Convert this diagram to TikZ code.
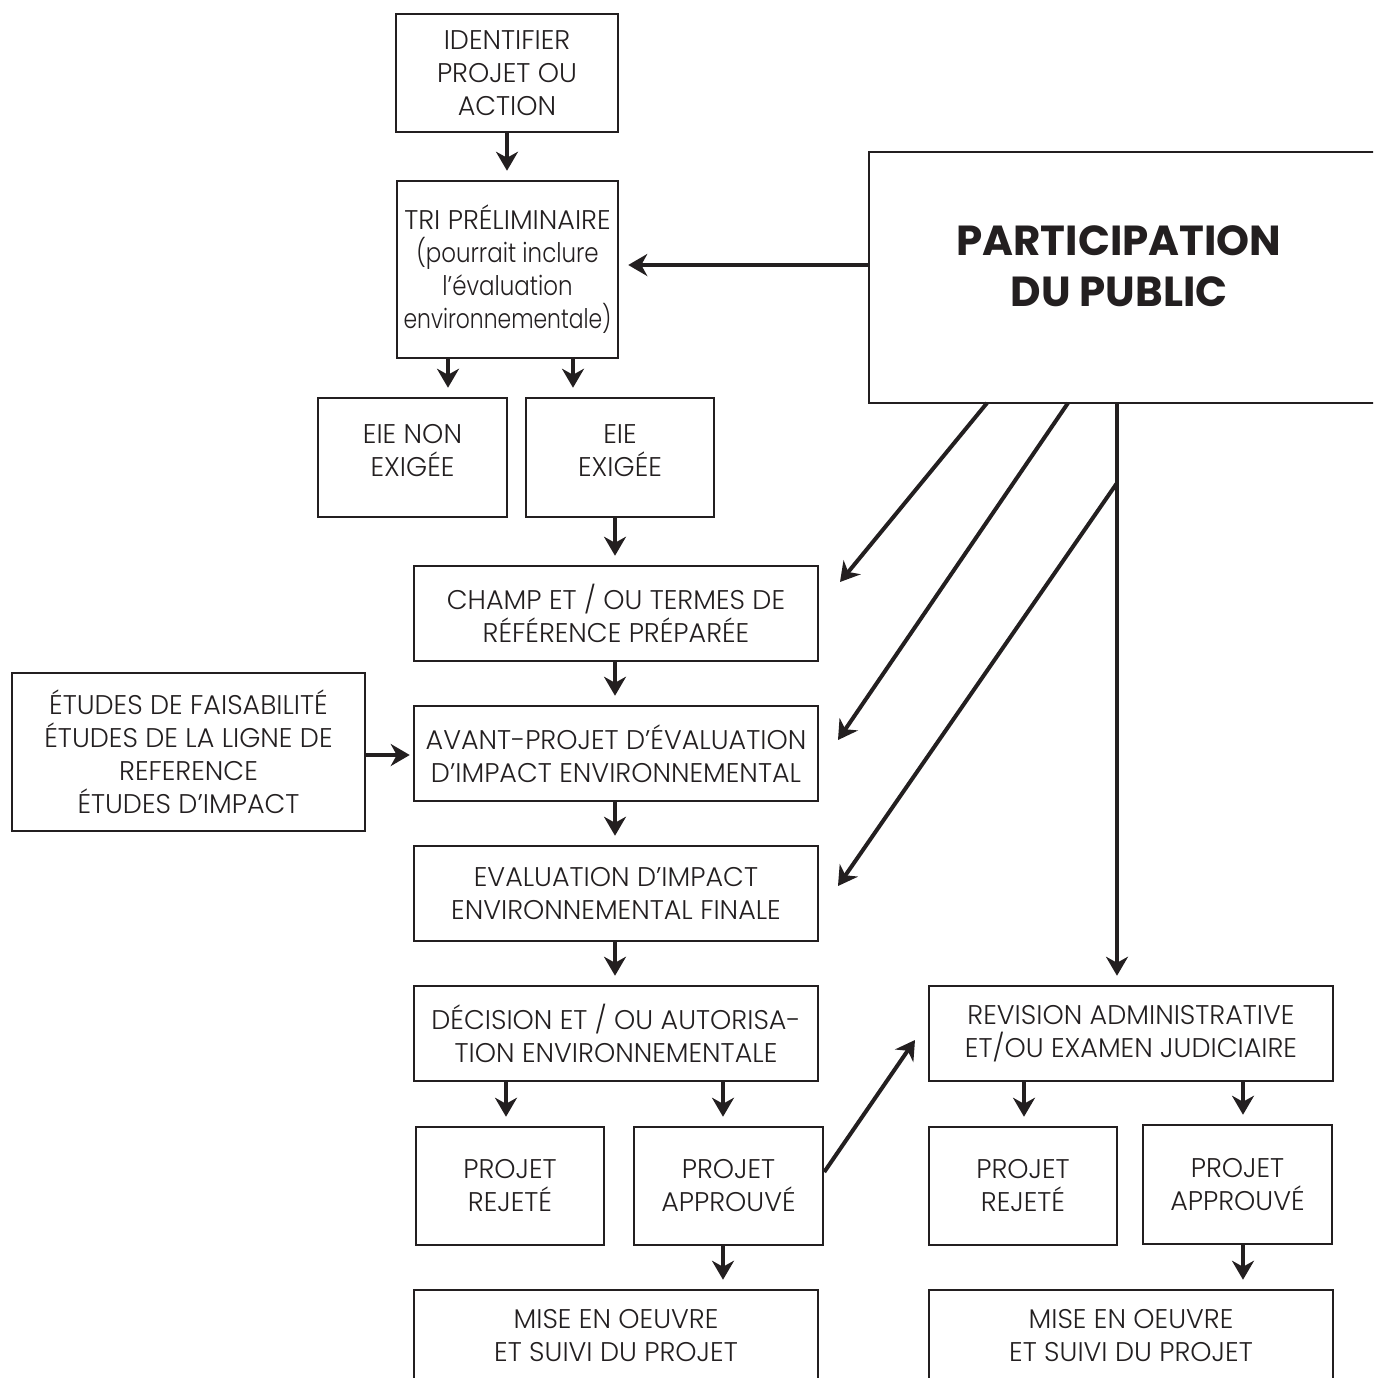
\documentclass[tikz,border=0pt]{standalone}
\usepackage{fontspec}
\setmainfont{Poppins}[UprightFont=*-Light, BoldFont=*-Bold]
\usetikzlibrary{arrows.meta,calc}
\definecolor{ink}{HTML}{231F20}
\newcommand{\narrow}[2][0.85]{\scalebox{#1}[1]{#2}}
\begin{document}
\begin{tikzpicture}[x=0.5pt,y=-0.5pt,
 box/.style={draw=ink, line width=1.25pt, align=center, inner sep=0pt, text=ink,
   font=\fontsize{13.5}{16.5}\selectfont},
 bigtext/.style={align=center, text=ink, font=\fontsize{21}{25.5}\selectfont\bfseries},
 arr/.style={line width=2pt, draw=ink, -{Stealth[length=9.5pt,width=11pt,inset=3pt]}, shorten >=4.5pt}]
\useasboundingbox (0,0) rectangle (1373,1378);
\clip (0,0) rectangle (1373,1378);
% boxes
\node[box, minimum width=111pt, minimum height=59pt] (ident) at (507,73) {IDENTIFIER\\PROJET OU\\ACTION};
\node[box, minimum width=110.5pt, minimum height=88.5pt] (tri) at (507.5,269.5) {TRI PRÉLIMINAIRE\\\narrow{(pourrait inclure}\\\narrow{l’évaluation}\\\narrow[0.81]{environnementale)}};
\node[box, minimum width=94.5pt, minimum height=59.5pt, text depth=7pt] (eien) at (412.5,457.5) {EIE NON\\EXIGÉE};
\node[box, minimum width=94pt, minimum height=59.5pt, text depth=7pt] (eie) at (620,457.5) {EIE\\EXIGÉE};
\node[box, minimum width=202pt, minimum height=47.5pt] (champ) at (616,613.5) {CHAMP ET / OU TERMES DE\\RÉFÉRENCE PRÉPARÉE};
\node[box, minimum width=202pt, minimum height=47.5pt] (avant) at (616,753.5) {AVANT-PROJET D’ÉVALUATION\\D’IMPACT ENVIRONNEMENTAL};
\node[box, minimum width=202pt, minimum height=47.5pt] (eval) at (616,893.5) {EVALUATION D’IMPACT\\ENVIRONNEMENTAL FINALE};
\node[box, minimum width=202pt, minimum height=47.5pt] (dec) at (616,1033.5) {DÉCISION ET / OU AUTORISA-\\TION ENVIRONNEMENTALE};
\node[box, minimum width=94pt, minimum height=59pt] (rej1) at (510,1186) {PROJET\\REJETÉ};
\node[box, minimum width=94.5pt, minimum height=59pt] (app1) at (728.5,1186) {PROJET\\APPROUVÉ};
\node[box, minimum width=202pt, minimum height=46pt] (mise1) at (616,1336) {MISE EN OEUVRE\\ET SUIVI DU PROJET};
\node[box, minimum width=176.5pt, minimum height=79pt] (etudes) at (188.5,752) {ÉTUDES DE FAISABILITÉ\\ÉTUDES DE LA LIGNE DE\\REFERENCE\\ÉTUDES D’IMPACT};
\node[box, minimum width=255.5pt, minimum height=125.5pt] (part) at (1124.5,277.5) {};
\node[bigtext] (parttxt) at (1119,266) {PARTICIPATION\\DU PUBLIC};
\node[box, minimum width=202pt, minimum height=47.5pt] (rev) at (1131,1033.5) {REVISION ADMINISTRATIVE\\ET/OU EXAMEN JUDICIAIRE};
\node[box, minimum width=94pt, minimum height=59pt] (rej2) at (1023,1186) {PROJET\\REJETÉ};
\node[box, minimum width=94.5pt, minimum height=59.5pt] (app2) at (1237.5,1184.5) {PROJET\\APPROUVÉ};
\node[box, minimum width=202pt, minimum height=46pt] (mise2) at (1131,1336) {MISE EN OEUVRE\\ET SUIVI DU PROJET};
% helper coordinates
\coordinate (xi) at (507,0);
\coordinate (xa) at (448,0);
\coordinate (xb) at (573,0);
\coordinate (xc) at (615,0);
\coordinate (xd) at (506,0);
\coordinate (xe) at (723,0);
\coordinate (xf) at (1024,0);
\coordinate (xg) at (1243,0);
\coordinate (xh) at (1117,0);
\coordinate (ya) at (0,755);
\coordinate (yb) at (0,265);
\coordinate (yc) at (0,1172);
\coordinate (p1) at (987,403);
\coordinate (t1) at (840,582);
\coordinate (p2) at (1068,403);
\coordinate (t2) at (838,740);
\coordinate (p3) at (1117,483);
\coordinate (t3) at (838,886);
\coordinate (t4) at (915,1040);
% connectors
\draw[arr] (ident.south -| xi) -- (tri.north -| xi);
\draw[arr] (tri.south -| xa) -- (eien.north -| xa);
\draw[arr] (tri.south -| xb) -- (eie.north -| xb);
\draw[arr] (eie.south -| xc) -- (champ.north -| xc);
\draw[arr] (champ.south -| xc) -- (avant.north -| xc);
\draw[arr] (avant.south -| xc) -- (eval.north -| xc);
\draw[arr] (eval.south -| xc) -- (dec.north -| xc);
\draw[arr] (dec.south -| xd) -- (rej1.north -| xd);
\draw[arr] (dec.south -| xe) -- (app1.north -| xe);
\draw[arr] (app1.south -| xe) -- (mise1.north -| xe);
\draw[arr] (rev.south -| xf) -- (rej2.north -| xf);
\draw[arr] (rev.south -| xg) -- (app2.north -| xg);
\draw[arr] (app2.south -| xg) -- (mise2.north -| xg);
\draw[arr, shorten >=1.5pt] (etudes.east |- ya) -- (avant.west |- ya);
\draw[arr] (part.west |- yb) -- (tri.east |- yb);
\draw[arr, shorten >=0pt] (p1) -- (t1);
\draw[arr, shorten >=0pt] (p2) -- (t2);
\draw[arr, shorten >=0pt] (p3) -- (t3);
\draw[arr] (part.south -| xh) -- (rev.north -| xh);
\draw[arr, shorten >=0pt] (app1.east |- yc) -- (t4);
\end{tikzpicture}
\end{document}
